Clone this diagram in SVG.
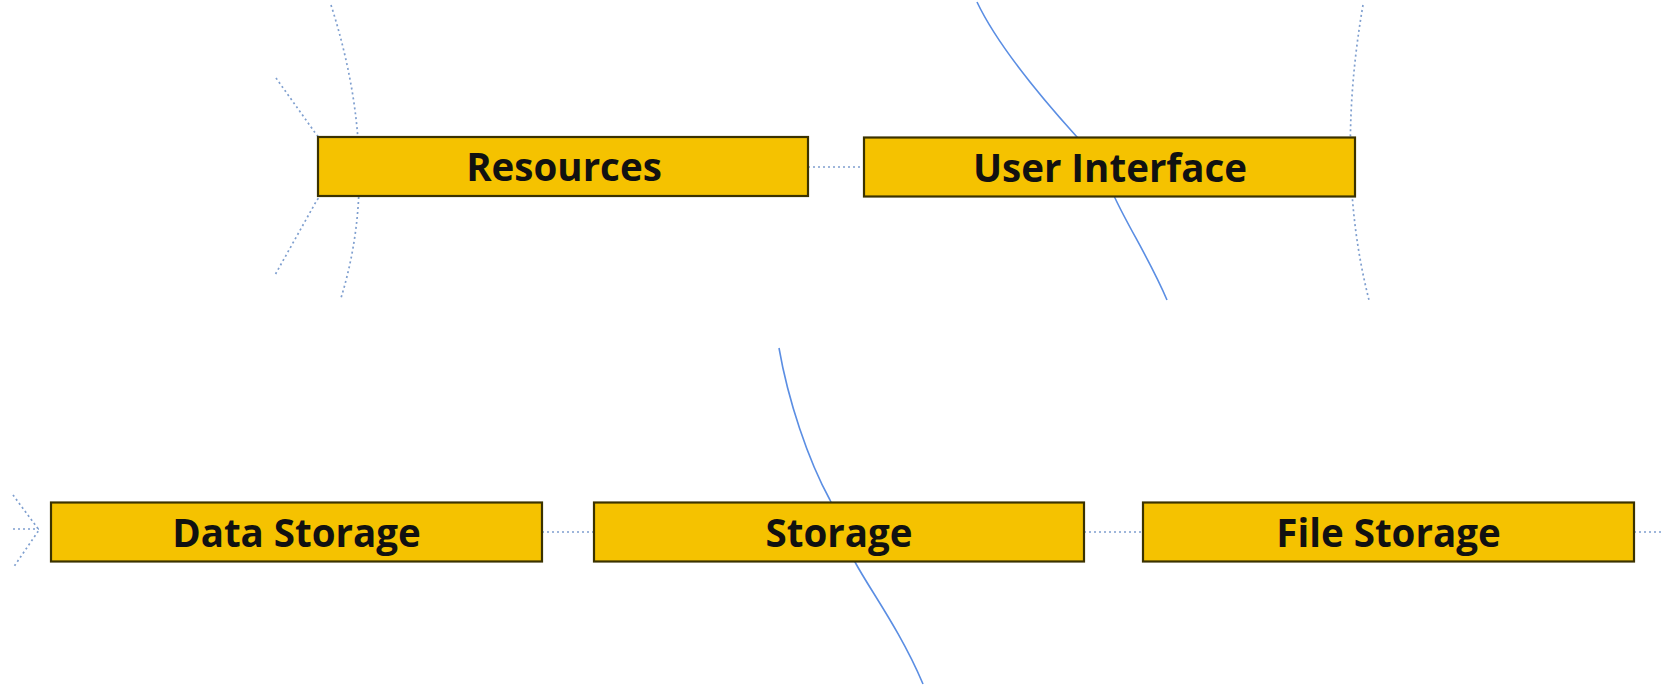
<svg xmlns="http://www.w3.org/2000/svg" width="1663" height="687" viewBox="0 0 1663 687">
<style>
.dot{fill:none;stroke:#7f9fcf;stroke-width:1.7;stroke-dasharray:2 3}
.sol{fill:none;stroke:#5b8ee3;stroke-width:1.6}
.box{fill:#f5c200;stroke:#3b3200;stroke-width:2.2}
.lbl{font-family:"Open Sans","Noto Sans","Liberation Sans",sans-serif;font-weight:700;font-size:38.5px;fill:#111;text-anchor:middle}
</style>
<rect width="1663" height="687" fill="#fff"/>
<g id="connectors">
<path class="dot" d="M808,167 L864,167"/>
<path class="dot" d="M331,5 Q382,165 341,298"/>
<path class="dot" d="M276,78 L316,134 Q345,167 317,200 L275,275"/>
<path class="dot" d="M1363,5 Q1335,167 1369,300"/>
<path class="sol" d="M977,2 C995,40 1030,85 1077,137 C1100,162 1112,190 1115,198 C1130,230 1150,260 1167,300"/>
<path class="sol" d="M779,348 C788,400 808,460 830,500 C840,520 848,545 855,562 C870,590 900,630 923,684"/>
<path class="dot" d="M542,532 L594,532"/>
<path class="dot" d="M1084,532 L1143,532"/>
<path class="dot" d="M1634,532 L1663,532"/>
<path class="dot" d="M13,495 L39,530 L13,568"/>
<path class="dot" d="M13,529 L39,529"/>
</g>
<g id="resources"><rect class="box" x="318" y="137" width="490" height="59"/><text class="lbl" x="564" y="181">Resources</text></g>
<g id="user-interface"><rect class="box" x="864" y="137.5" width="491" height="59"/><text class="lbl" x="1110" y="181.5">User Interface</text></g>
<g id="data-storage"><rect class="box" x="51" y="502.5" width="491" height="59"/><text class="lbl" x="296.5" y="546.5">Data Storage</text></g>
<g id="storage"><rect class="box" x="594" y="502.5" width="490" height="59"/><text class="lbl" x="839" y="546.5">Storage</text></g>
<g id="file-storage"><rect class="box" x="1143" y="502.5" width="491" height="59"/><text class="lbl" x="1388.5" y="546.5">File Storage</text></g>
</svg>
